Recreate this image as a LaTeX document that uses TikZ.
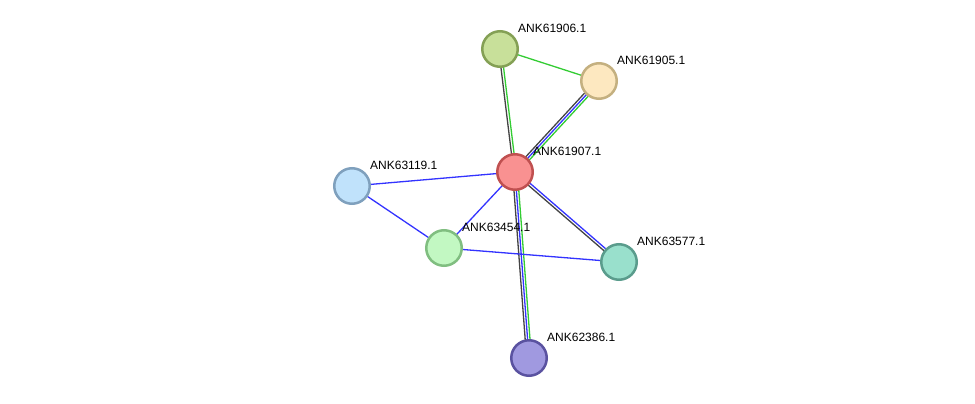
\documentclass[tikz,border=0pt]{standalone}
\usepackage{fontspec}
\setmainfont{Liberation Sans}
\usetikzlibrary{calc}
\definecolor{eg}{HTML}{33CC33}
\definecolor{eb}{HTML}{3333FF}
\definecolor{ek}{HTML}{444444}
\tikzset{
  prot/.style={circle,minimum size=35.5pt,inner sep=0pt,line width=2.5pt},
  lbl/.style={anchor=west,inner sep=0pt,font=\fontsize{12pt}{14pt}\selectfont},
  edge/.style={line width=1.3pt}
}
\newcommand\edgeline[5]{\draw[edge,#5] ($(#1.center)!#3!#4:(#2.center)$) -- ($(#2.center)!#3!-#4:(#1.center)$);}
\begin{document}
\begin{tikzpicture}[x=1pt,y=-1pt]
\useasboundingbox (0,0) rectangle (975,404);
% coordinates of nodes
\coordinate (c7) at (515,172);
\coordinate (c6) at (500,49);
\coordinate (c5) at (599,81);
\coordinate (c19) at (352,186);
\coordinate (c54) at (444,248);
\coordinate (c77) at (619,262);
\coordinate (c86) at (529,358);
% edges
\edgeline{c6}{c7}{1.3pt}{90}{eg}
\edgeline{c6}{c7}{1.3pt}{-90}{ek}
\edgeline{c6}{c5}{0pt}{90}{eg}
\edgeline{c5}{c7}{2.4pt}{90}{eg}
\edgeline{c5}{c7}{0pt}{90}{eb}
\edgeline{c5}{c7}{2.4pt}{-90}{ek}
\edgeline{c7}{c19}{0pt}{90}{eb}
\edgeline{c7}{c54}{0pt}{90}{eb}
\edgeline{c7}{c77}{1.3pt}{90}{eb}
\edgeline{c7}{c77}{1.3pt}{-90}{ek}
\edgeline{c7}{c86}{2.4pt}{90}{eg}
\edgeline{c7}{c86}{0pt}{90}{eb}
\edgeline{c7}{c86}{2.4pt}{-90}{ek}
\edgeline{c19}{c54}{0pt}{90}{eb}
\edgeline{c54}{c77}{0pt}{90}{eb}
% nodes
\node[prot,fill={rgb,255:red,249;green,145;blue,145},draw={rgb,255:red,192;green,80;blue,80}] (n7) at (c7) {};
\node[prot,fill={rgb,255:red,200;green,224;blue,154},draw={rgb,255:red,132;green,160;blue,85}] (n6) at (c6) {};
\node[prot,fill={rgb,255:red,253;green,232;blue,192},draw={rgb,255:red,196;green,176;blue,128}] (n5) at (c5) {};
\node[prot,fill={rgb,255:red,192;green,226;blue,251},draw={rgb,255:red,127;green,160;blue,189}] (n19) at (c19) {};
\node[prot,fill={rgb,255:red,194;green,248;blue,194},draw={rgb,255:red,128;green,190;blue,128}] (n54) at (c54) {};
\node[prot,fill={rgb,255:red,153;green,224;blue,204},draw={rgb,255:red,90;green,156;blue,140}] (n77) at (c77) {};
\node[prot,fill={rgb,255:red,160;green,153;blue,224},draw={rgb,255:red,90;green,82;blue,160}] (n86) at (c86) {};
% labels
\node[lbl] (l7) at ($(c7)+(18,-21)$) {ANK61907.1};
\node[lbl] (l6) at ($(c6)+(18,-21)$) {ANK61906.1};
\node[lbl] (l5) at ($(c5)+(18,-21)$) {ANK61905.1};
\node[lbl] (l19) at ($(c19)+(18,-21)$) {ANK63119.1};
\node[lbl] (l54) at ($(c54)+(18,-21)$) {ANK63454.1};
\node[lbl] (l77) at ($(c77)+(18,-21)$) {ANK63577.1};
\node[lbl] (l86) at ($(c86)+(18,-21)$) {ANK62386.1};
\end{tikzpicture}
\end{document}
